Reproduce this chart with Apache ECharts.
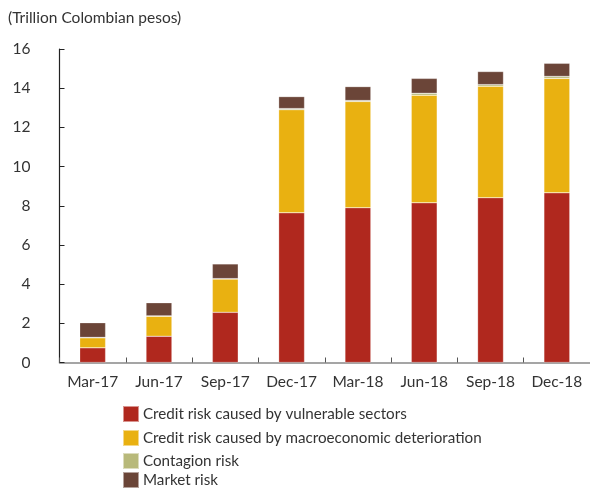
<!DOCTYPE html>
<html>
<head>
<meta charset="utf-8">
<script src="https://cdn.jsdelivr.net/npm/echarts@6/dist/echarts.min.js"></script>
<style>
  html, body { margin: 0; padding: 0; background: #fff; }
  #container { width: 590px; height: 490px; }
</style>
</head>
<body>
<div id="container"></div>
<script>
// quarters on the x axis
var categories = ['Mar-17', 'Jun-17', 'Sep-17', 'Dec-17', 'Mar-18', 'Jun-18', 'Sep-18', 'Dec-18'];
// stacked risk components (trillion COP)
var vulnerable = [0.75, 1.34, 2.56, 7.64, 7.90, 8.15, 8.41, 8.66];
var macro      = [0.51, 1.02, 1.70, 5.26, 5.42, 5.49, 5.69, 5.84];
var contagion  = [0.02, 0.02, 0.02, 0.06, 0.05, 0.10, 0.08, 0.10];
var market     = [0.75, 0.67, 0.75, 0.61, 0.71, 0.76, 0.67, 0.67];
var yTicks = [0, 2, 4, 6, 8, 10, 12, 14, 16];
var seriesNames = ['Credit risk caused by vulnerable sectors',
                   'Credit risk caused by macroeconomic deterioration',
                   'Contagion risk', 'Market risk'];

var font = 'Lato, sans-serif';
var fs = 15.5;

function bar(name, data, color) {
  return {
    name: name,
    type: 'bar',
    stack: 'total',
    barWidth: '39%',
    data: data,
    itemStyle: { color: color, borderColor: 'rgba(255,255,255,0.5)', borderWidth: 0.5 }
  };
}

// one legend per row, rows are not evenly spaced in the original
var legendTops = [405, 429, 452, 471];
var legends = seriesNames.map(function (n, i) {
  return {
    left: 122, top: legendTops[i], padding: 0,
    itemWidth: 16, itemHeight: 16, itemGap: 0,
    icon: 'rect',
    textStyle: { fontFamily: font, fontSize: 15.2, color: '#333', padding: [0, 0, 0, -1] },
    data: [n]
  };
});

var myChart = echarts.init(document.getElementById('container'));
var option = {
  animation: false,
  textStyle: { fontFamily: font },
  title: {
    text: '(Trillion Colombian pesos)',
    left: 3, top: 5,
    textStyle: { fontFamily: font, fontSize: fs, fontWeight: 'normal', color: '#333' }
  },
  grid: { left: 59.5, right: 0, top: 49, bottom: 127.5 },
  legend: legends,
  xAxis: {
    type: 'category',
    data: categories,
    axisLine: { lineStyle: { color: '#888', width: 1.5 } },
    axisTick: { show: true, inside: true, length: 5, lineStyle: { color: '#555' } },
    axisLabel: { interval: 0, margin: 11, fontSize: fs, color: '#333', fontFamily: font }
  },
  yAxis: {
    type: 'value',
    min: yTicks[0], max: yTicks[yTicks.length - 1], interval: 2,
    splitLine: { show: false },
    axisLine: { show: true, lineStyle: { color: '#222', width: 1.2 } },
    axisTick: { show: true, inside: true, length: 5, lineStyle: { color: '#222' } },
    axisLabel: { margin: 29, fontSize: fs, color: '#333', fontFamily: font }
  },
  series: [
    bar(seriesNames[0], vulnerable, '#B0281E'),
    bar(seriesNames[1], macro, '#E9B111'),
    bar(seriesNames[2], contagion, '#B8B97A'),
    bar(seriesNames[3], market, '#6B4538')
  ]
};
myChart.setOption(option);
</script>
</body>
</html>
